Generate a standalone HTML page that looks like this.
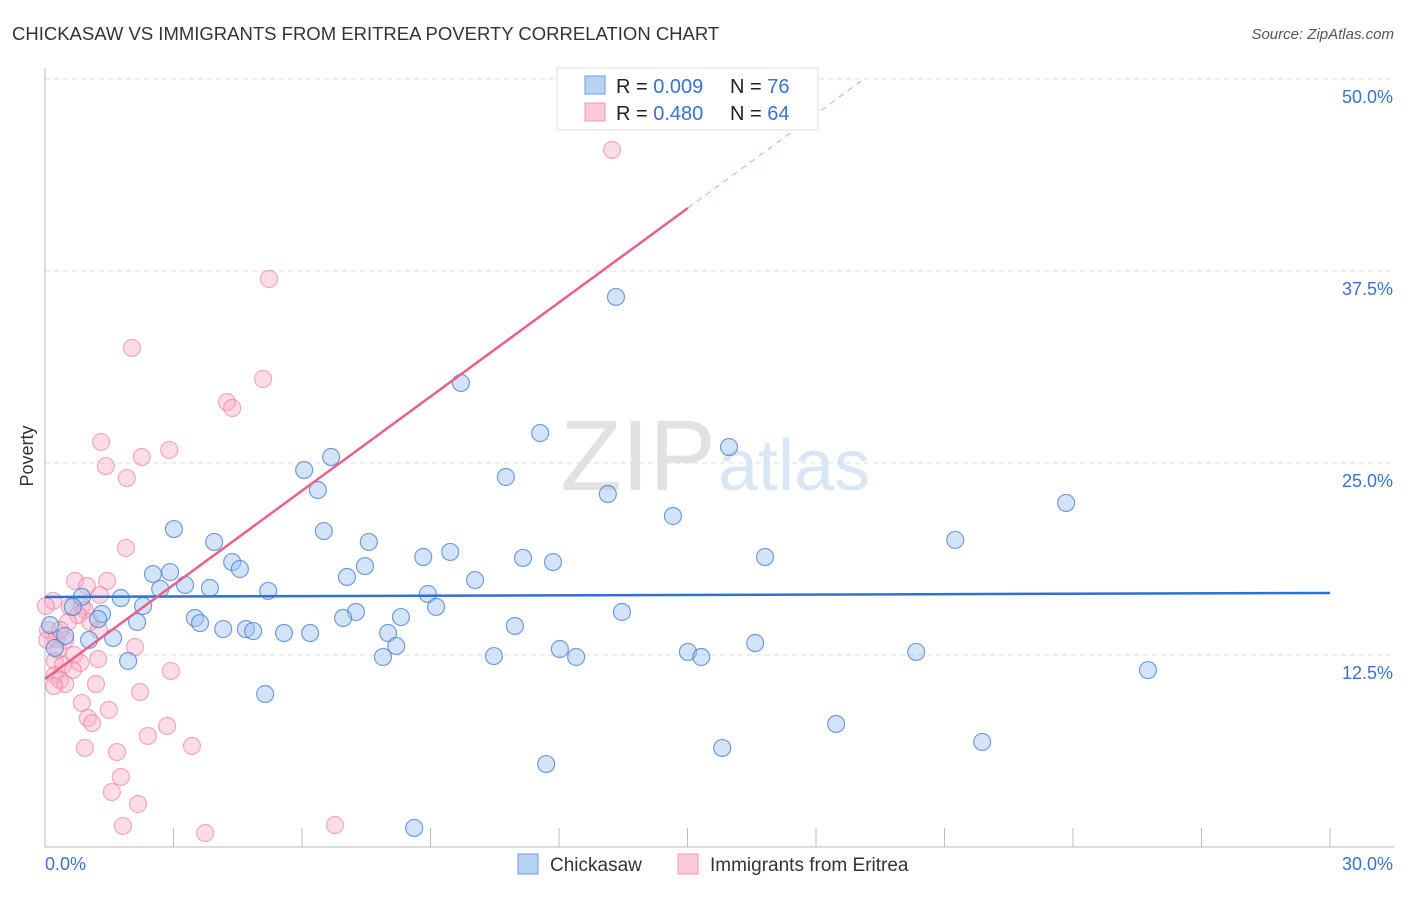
<!DOCTYPE html>
<html><head><meta charset="utf-8"><style>
body{margin:0;background:#fff;font-family:"Liberation Sans",sans-serif;}
svg text{font-family:"Liberation Sans",sans-serif;}
</style></head><body>
<svg id="chart" width="1406" height="892" xmlns="http://www.w3.org/2000/svg">
<text x="12" y="40" font-size="18.5" fill="#333">CHICKASAW VS IMMIGRANTS FROM ERITREA POVERTY CORRELATION CHART</text>
<text x="1394" y="39" font-size="15" fill="#555" text-anchor="end" font-style="italic">Source: ZipAtlas.com</text>
<text x="33" y="456" font-size="18" fill="#333" text-anchor="middle" transform="rotate(-90 33 456)">Poverty</text>
<text x="716" y="490" font-size="100" fill="#e2e2e2" text-anchor="end" font-family="Liberation Serif">ZIP</text>
<text x="718" y="490" font-size="72" fill="#d9e6f6">atlas</text>
<g id="grid"></g><g id="pts"></g><g id="lines"></g>
<g>
<rect x="557" y="68" width="261" height="62" fill="#fff" stroke="#ddd"/>
<rect x="585" y="76" width="20" height="18" fill="#b8d2f4" stroke="#6f9fe0"/>
<rect x="585" y="103" width="20" height="18" fill="#fbc9d7" stroke="#f09ab3"/>
<text x="616" y="93" font-size="20" fill="#222">R = <tspan fill="#3a72d0">0.009</tspan></text>
<text x="730" y="93" font-size="20" fill="#222">N = <tspan fill="#3a72d0">76</tspan></text>
<text x="616" y="120" font-size="20" fill="#222">R = <tspan fill="#3a72d0">0.480</tspan></text>
<text x="730" y="120" font-size="20" fill="#222">N = <tspan fill="#3a72d0">64</tspan></text>
</g>
<g>
<rect x="518" y="854" width="20" height="20" fill="#b8d2f4" stroke="#6f9fe0"/>
<text x="550" y="871" font-size="19" fill="#333">Chickasaw</text>
<rect x="678" y="854" width="20" height="20" fill="#fbc9d7" stroke="#f09ab3"/>
<text x="710" y="871" font-size="19" fill="#333">Immigrants from Eritrea</text>
</g>
</svg>
<script>
const yTicks=[12.5,25,37.5,50];
const yTickLabels=["12.5%","25.0%","37.5%","50.0%"];
const xTicks=[3,6,9,12,15,18,21,24,27,30];
const blueX=[13.33,9.71,11.56,15.97,6.68,6.05,10.76,6.37,13.14,23.84,3.01,6.51,14.66,3.95,7.56,21.25,4.37,8.83,9.46,11.16,11.86,16.81,4.55,7.47,2.52,2.92,7.05,10.04,3.27,3.85,2.69,5.21,8.94,1.77,0.86,2.29,0.65,9.13,7.26,13.47,1.33,1.24,3.50,3.62,2.15,8.31,6.96,10.97,4.16,4.69,4.86,5.58,6.19,8.01,1.59,1.03,0.47,0.12,0.23,8.20,12.02,16.58,7.89,10.48,12.40,15.01,15.32,20.34,25.75,1.94,5.14,18.47,21.88,15.81,11.70,8.62];
const blueY=[35.81,30.21,26.95,26.04,25.39,24.54,24.09,23.24,22.98,22.40,20.70,20.57,21.55,19.86,19.86,19.99,18.55,18.88,19.21,18.82,18.55,18.88,18.10,18.29,17.77,17.90,17.58,17.38,17.06,16.86,16.80,16.67,16.47,16.21,16.28,15.69,15.63,15.63,15.30,15.30,15.17,14.84,14.91,14.58,14.65,14.97,14.91,14.39,14.19,14.19,14.06,13.93,13.93,13.93,13.61,13.48,13.74,14.45,12.96,13.09,12.89,13.28,12.37,12.43,12.37,12.70,12.37,12.70,11.52,12.11,9.96,8.01,6.84,6.45,5.40,1.24];
const pinkX=[13.24,5.23,2.03,5.09,4.25,4.37,1.31,2.90,2.26,1.42,1.91,1.89,0.70,1.45,0.98,1.28,0.58,0.86,0.93,1.05,1.26,2.10,0.19,0.07,0.26,0.47,0.30,0.68,0.82,0.23,1.24,0.42,0.65,0.23,0.35,0.47,1.19,0.21,2.22,2.94,0.86,1.49,1.00,1.10,2.85,2.40,3.43,0.93,1.68,1.77,1.56,2.17,1.82,3.74,6.77,0.02,0.05,0.77,0.54,0.35];
const pinkY=[45.38,36.98,32.49,30.47,28.97,28.58,26.37,25.85,25.39,24.80,24.02,19.47,17.32,17.32,16.99,16.41,15.63,15.69,15.43,14.65,14.13,13.02,16.02,14.13,13.54,13.48,12.83,12.50,11.98,12.11,12.24,11.85,11.52,11.20,10.87,10.61,10.61,10.48,10.09,11.46,9.38,8.92,8.40,8.07,7.88,7.23,6.58,6.45,6.18,4.56,3.58,2.80,1.37,0.91,1.43,15.69,13.48,15.10,14.65,14.13];
const blueTrend=[16.28,16.54];
const pinkTrend=[10.94,41.6];
const pinkSolidEnd=15.01;

const NS="http://www.w3.org/2000/svg";
const X=v=>45+v*1285/30, Y=v=>847-v*768/50;
function mk(tag,attrs,parent){const e=document.createElementNS(NS,tag);for(const k in attrs)e.setAttribute(k,attrs[k]);parent.appendChild(e);return e;}
const grid=document.getElementById('grid'),pts=document.getElementById('pts'),lines=document.getElementById('lines');
yTicks.forEach((t,i)=>{
  const g=mk('line',{x1:45,x2:1394,y1:Y(t),y2:Y(t),stroke:'#ddd','stroke-dasharray':'5,4'},grid);
  
  
  const tx=mk('text',{x:1393,y:Y(t)+24,'font-size':18,fill:'#3a72d0','text-anchor':'end'},grid);
  tx.textContent=yTickLabels[i];
  
  
});
const ax=mk('line',{x1:45,x2:45,y1:68,y2:847,stroke:'#bbb'},grid);


const bx=mk('line',{x1:45,x2:1394,y1:847,y2:847,stroke:'#bbb'},grid);


xTicks.forEach(t=>{
  const l=mk('line',{x1:X(t),x2:X(t),y1:828,y2:847,stroke:'#bbb'},grid);
  
  
});
const xl0=mk('text',{x:45,y:870,'font-size':18,fill:'#3a72d0'},grid);xl0.textContent='0.0%';


const xl1=mk('text',{x:1393,y:870,'font-size':18,fill:'#3a72d0','text-anchor':'end'},grid);xl1.textContent='30.0%';


pinkX.forEach((x,i)=>{
  const c=mk('circle',{cx:X(x),cy:Y(pinkY[i]),r:8.5,fill:'rgba(247,170,195,0.4)',stroke:'rgba(236,120,155,0.6)','stroke-width':1.2},pts);
  
  
});
blueX.forEach((x,i)=>{
  const c=mk('circle',{cx:X(x),cy:Y(blueY[i]),r:8.5,fill:'rgba(160,195,240,0.45)',stroke:'rgba(60,120,210,0.7)','stroke-width':1.2},pts);
  
  
});
const bl=mk('line',{x1:X(0),y1:Y(blueTrend[0]),x2:X(30),y2:Y(blueTrend[1]),stroke:'#2f6fd6','stroke-width':2.5},lines);


const slope=(pinkTrend[1]-pinkTrend[0])/pinkSolidEnd;
const pl=mk('line',{x1:X(0),y1:Y(pinkTrend[0]),x2:X(pinkSolidEnd),y2:Y(pinkTrend[1]),stroke:'#e8608c','stroke-width':2.5},lines);


const xEnd=(50-pinkTrend[0])/slope;
const pd=mk('line',{x1:X(pinkSolidEnd),y1:Y(pinkTrend[1]),x2:X(xEnd),y2:Y(50),stroke:'#e8a0b8','stroke-width':1,'stroke-dasharray':'6,5'},lines);


</script>
</body></html>
